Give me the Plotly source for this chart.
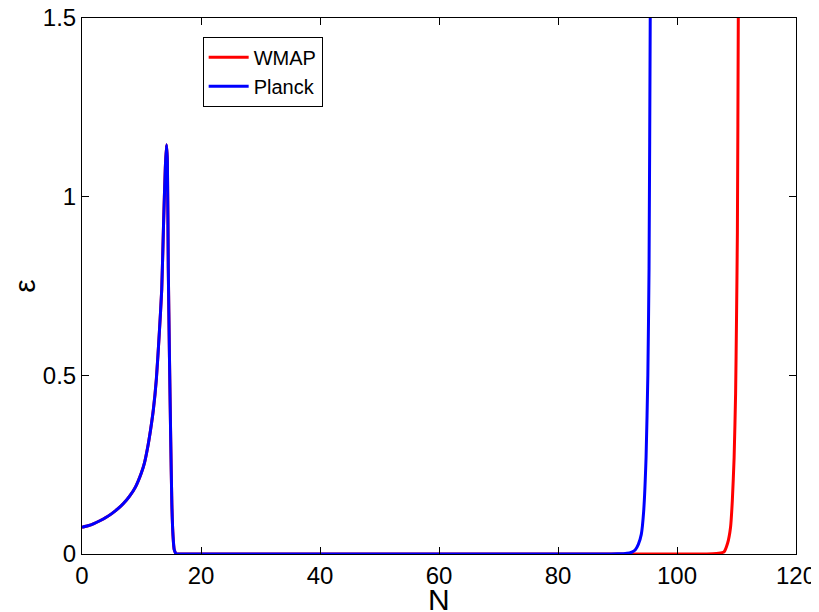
import plotly.graph_objects as go

# Shared early part (both curves coincide)
N_common = [0, 1, 2, 3, 4, 5, 6, 7, 8, 9, 10, 10.5, 11, 11.5, 12, 12.5, 13, 13.4,
            13.7, 14.0, 14.2, 14.35, 14.5, 14.7, 14.9, 15.1, 15.3, 15.5, 15.8, 16.2]
eps_common = [0.075, 0.079, 0.085, 0.093, 0.102, 0.113, 0.126, 0.142, 0.162, 0.188,
              0.228, 0.255, 0.295, 0.345, 0.405, 0.49, 0.62, 0.74, 0.92, 1.08, 1.145,
              1.10, 0.80, 0.55, 0.33, 0.14, 0.05, 0.012, 0.001, 0.0]

# Planck late-time rise
N_planck_tail = [20, 40, 60, 80, 88, 90, 91, 92, 92.5, 93, 93.5, 94, 94.4, 94.8,
                 95.1, 95.3, 95.5, 95.6]
eps_planck_tail = [0, 0, 0, 0, 0, 0.0005, 0.001, 0.003, 0.006, 0.012, 0.027, 0.055,
                   0.12, 0.27, 0.5, 0.8, 1.5, 2.0]

# WMAP late-time rise
N_wmap_tail = [20, 40, 60, 80, 100, 105, 106, 107, 107.9, 108.5, 109.0, 109.3, 109.6,
               109.85, 110.0, 110.15, 110.3, 110.4]
eps_wmap_tail = [0, 0, 0, 0, 0, 0, 0.0005, 0.002, 0.006, 0.03, 0.075, 0.15, 0.27,
                 0.45, 0.654, 0.9, 1.5, 2.0]

x_ticks = [0, 20, 40, 60, 80, 100, 120]
y_ticks = [0, 0.5, 1, 1.5]
y_tick_labels = ["0", "0.5", "1", "1.5"]

fig = go.Figure()
fig.add_trace(go.Scatter(x=N_common + N_wmap_tail, y=eps_common + eps_wmap_tail,
                         mode="lines", name="WMAP",
                         line=dict(color="#FF0000", width=3, shape="spline", smoothing=0.5)))
fig.add_trace(go.Scatter(x=N_common + N_planck_tail, y=eps_common + eps_planck_tail,
                         mode="lines", name="Planck",
                         line=dict(color="#0000FF", width=3, shape="spline", smoothing=0.5)))

font_family = "Liberation Sans, Arial, sans-serif"
axis_common = dict(showline=True, linecolor="black", linewidth=1, mirror="ticks",
                   ticks="inside", ticklen=7, tickcolor="black", showgrid=False,
                   zeroline=False, automargin=False, ticklabeloverflow="allow",
                   tickfont=dict(size=24, color="black", family=font_family))

fig.update_layout(
    width=819, height=612,
    margin=dict(l=74, r=31, t=10, b=66),
    paper_bgcolor="white", plot_bgcolor="white",
    showlegend=True,
    legend=dict(x=0.169, y=0.965, xanchor="left", yanchor="top",
                bordercolor="black", borderwidth=1, bgcolor="white",
                font=dict(size=20, color="black", family=font_family),
                tracegroupgap=0, itemwidth=40),
    xaxis=dict(range=[0, 120], tickvals=x_ticks, **axis_common),
    yaxis=dict(range=[0, 1.5], tickvals=y_ticks, ticktext=y_tick_labels,
               title=dict(text="ε", font=dict(size=30, color="black", family=font_family),
                          standoff=23),
               **axis_common),
    annotations=[dict(text="N", xref="paper", yref="paper", x=0.5, y=-0.05,
                      xanchor="center", yanchor="top", showarrow=False,
                      font=dict(size=30, color="black", family=font_family))],
)

fig.write_html("out.html")
